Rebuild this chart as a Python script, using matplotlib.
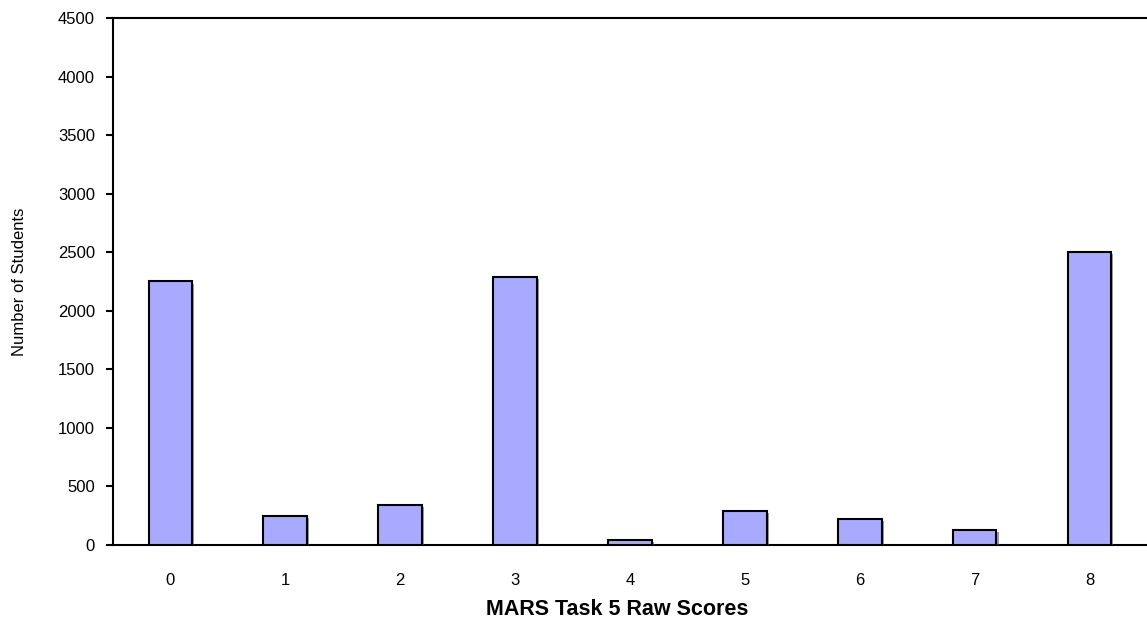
import matplotlib.pyplot as plt
import matplotlib.patheffects as pe

# Datos
puntajes = ['0', '1', '2', '3', '4', '5', '6', '7', '8']
estudiantes = [2250, 245, 340, 2290, 40, 288, 222, 130, 2500]
yticks = [0, 500, 1000, 1500, 2000, 2500, 3000, 3500, 4000, 4500]

plt.rcParams['font.family'] = ['Liberation Sans', 'DejaVu Sans']

fig = plt.figure(figsize=(11.47, 6.22), dpi=100)
ax = fig.add_axes([0.0985, 0.124, 0.9015, 0.847])

x = range(len(puntajes))
barras = ax.bar(x, estudiantes, width=0.38, color='#a8aaff',
                edgecolor='black', linewidth=1.5, zorder=3)
for b in barras:
    b.set_path_effects([pe.SimplePatchShadow(offset=(1.5, -1.5), shadow_rgbFace='#555577', alpha=0.6),
                        pe.Normal()])

ax.set_xlim(-0.5, 8.5)
ax.set_ylim(0, 4500)
ax.set_xticks(list(x))
ax.set_xticklabels(puntajes)
ax.set_yticks(yticks)

ax.tick_params(axis='x', length=0, pad=20, labelsize=12)
ax.tick_params(axis='y', length=5, width=1.5, pad=8, labelsize=12, direction='out')

for s in ['left', 'bottom', 'top']:
    ax.spines[s].set_linewidth(1.5)
ax.spines['right'].set_visible(False)

ax.set_xlabel('MARS Task 5 Raw Scores', fontsize=15.5, fontweight='bold')
ax.xaxis.set_label_coords(0.488, -0.102)
ax.set_ylabel('Number of Students', fontsize=12)
ax.yaxis.set_label_coords(-0.083, 0.5)

fig.savefig('out.png', dpi=100)
